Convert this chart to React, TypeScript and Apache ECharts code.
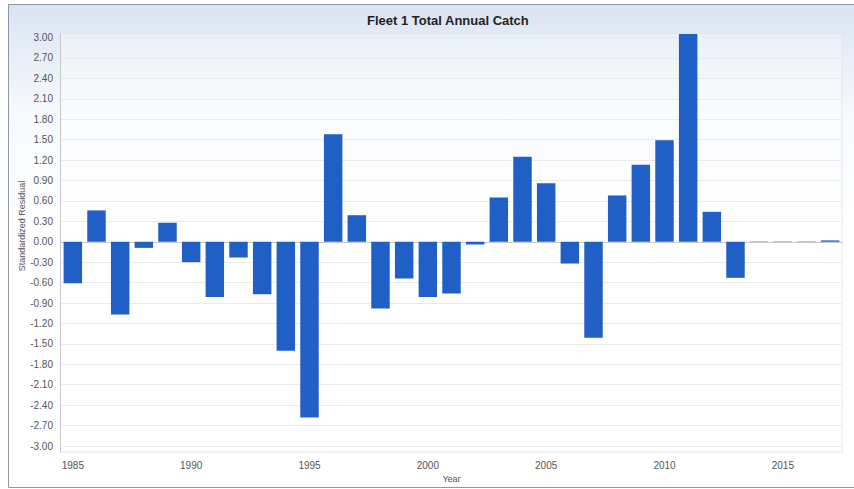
import React, { useEffect, useRef } from "react";
import * as echarts from "echarts";

const years: string[] = [
  "1985","1986","1987","1988","1989","1990","1991","1992","1993","1994",
  "1995","1996","1997","1998","1999","2000","2001","2002","2003","2004",
  "2005","2006","2007","2008","2009","2010","2011","2012","2013","2014",
  "2015","2016","2017",
];
const residuals: number[] = [
  -0.61, 0.46, -1.07, -0.09, 0.28, -0.3, -0.81, -0.23, -0.77, -1.6,
  -2.58, 1.58, 0.39, -0.98, -0.54, -0.81, -0.76, -0.04, 0.65, 1.25,
  0.86, -0.32, -1.41, 0.68, 1.13, 1.49, 3.05, 0.44, -0.53, 0.005,
  0.005, 0.005, 0.02,
];
const yMin = -3;
const yMax = 3;
const yStep = 0.3;
const titleText = "Fleet 1 Total Annual Catch";
const xName = "Year";
const yName = "Standardized Residual";

const FONT = "'Liberation Sans', Arial, sans-serif";

export default function App() {
  const ref = useRef<HTMLDivElement>(null);
  useEffect(() => {
    if (!ref.current) return;
    const chart = echarts.init(ref.current, null, { renderer: "svg" });
    chart.setOption({
      animation: false,
      backgroundColor: "#ffffff",
      textStyle: { fontFamily: FONT },
      title: {
        text: titleText,
        left: 362,
        top: 9,
        textStyle: { fontSize: 13, fontWeight: "bold", color: "#222", fontFamily: FONT },
      },
      graphic: [
        {
          type: "rect",
          z: -10,
          shape: { x: 8.5, y: 4.5, width: 860, height: 483 },
          style: {
            fill: new echarts.graphic.LinearGradient(0, 0, 0, 1, [
              { offset: 0, color: "#d9e4f2" },
              { offset: 0.22, color: "#f6f9fd" },
              { offset: 0.45, color: "#ffffff" },
              { offset: 1, color: "#ffffff" },
            ]),
            stroke: "#8e98a4",
            lineWidth: 1,
          },
        },
        {
          type: "rect",
          z: -9,
          shape: { x: 60.5, y: 33.5, width: 781.5, height: 418.5 },
          style: { fill: "rgba(255,255,255,0.35)", stroke: "#e2e6ea", lineWidth: 1 },
        },
        {
          type: "line",
          z: 5,
          shape: { x1: 60.5, y1: 33, x2: 60.5, y2: 452.5 },
          style: { stroke: "#c8c8c8", lineWidth: 1 },
        },
        {
          type: "text",
          x: 22,
          y: 226,
          rotation: Math.PI / 2,
          style: {
            text: yName,
            fontSize: 9,
            fontFamily: FONT,
            fill: "#555",
            align: "center",
            verticalAlign: "middle",
          },
        },
      ],
      grid: { left: 61, right: 12, top: 37.5, bottom: 43 },
      xAxis: {
        type: "category",
        data: years,
        offset: 6,
        axisLine: { show: true, lineStyle: { color: "#c8c8c8" } },
        axisTick: { show: false },
        axisLabel: { interval: 4, color: "#555", fontSize: 10, margin: 8, fontFamily: FONT },
        name: xName,
        nameLocation: "middle",
        nameGap: 18,
        nameTextStyle: { fontSize: 9, color: "#555", fontFamily: FONT },
      },
      yAxis: {
        type: "value",
        min: yMin,
        max: yMax,
        interval: yStep,
        axisLine: { show: false },
        axisTick: { show: false },
        axisLabel: {
          color: "#555",
          fontSize: 10,
          margin: 8,
          fontFamily: FONT,
          formatter: (v: number) => v.toFixed(2),
        },
        splitLine: { lineStyle: { color: "#ebebeb", width: 1 } },
      },
      series: [
        {
          type: "bar",
          data: residuals,
          barWidth: "78%",
          clip: false,
          itemStyle: { color: "#1f5fc6" },
        },
      ],
    });
    return () => chart.dispose();
  }, []);
  return (
    <div
      ref={ref}
      style={{ position: "absolute", left: 0, top: 0, width: 854, height: 489 }}
    />
  );
}
